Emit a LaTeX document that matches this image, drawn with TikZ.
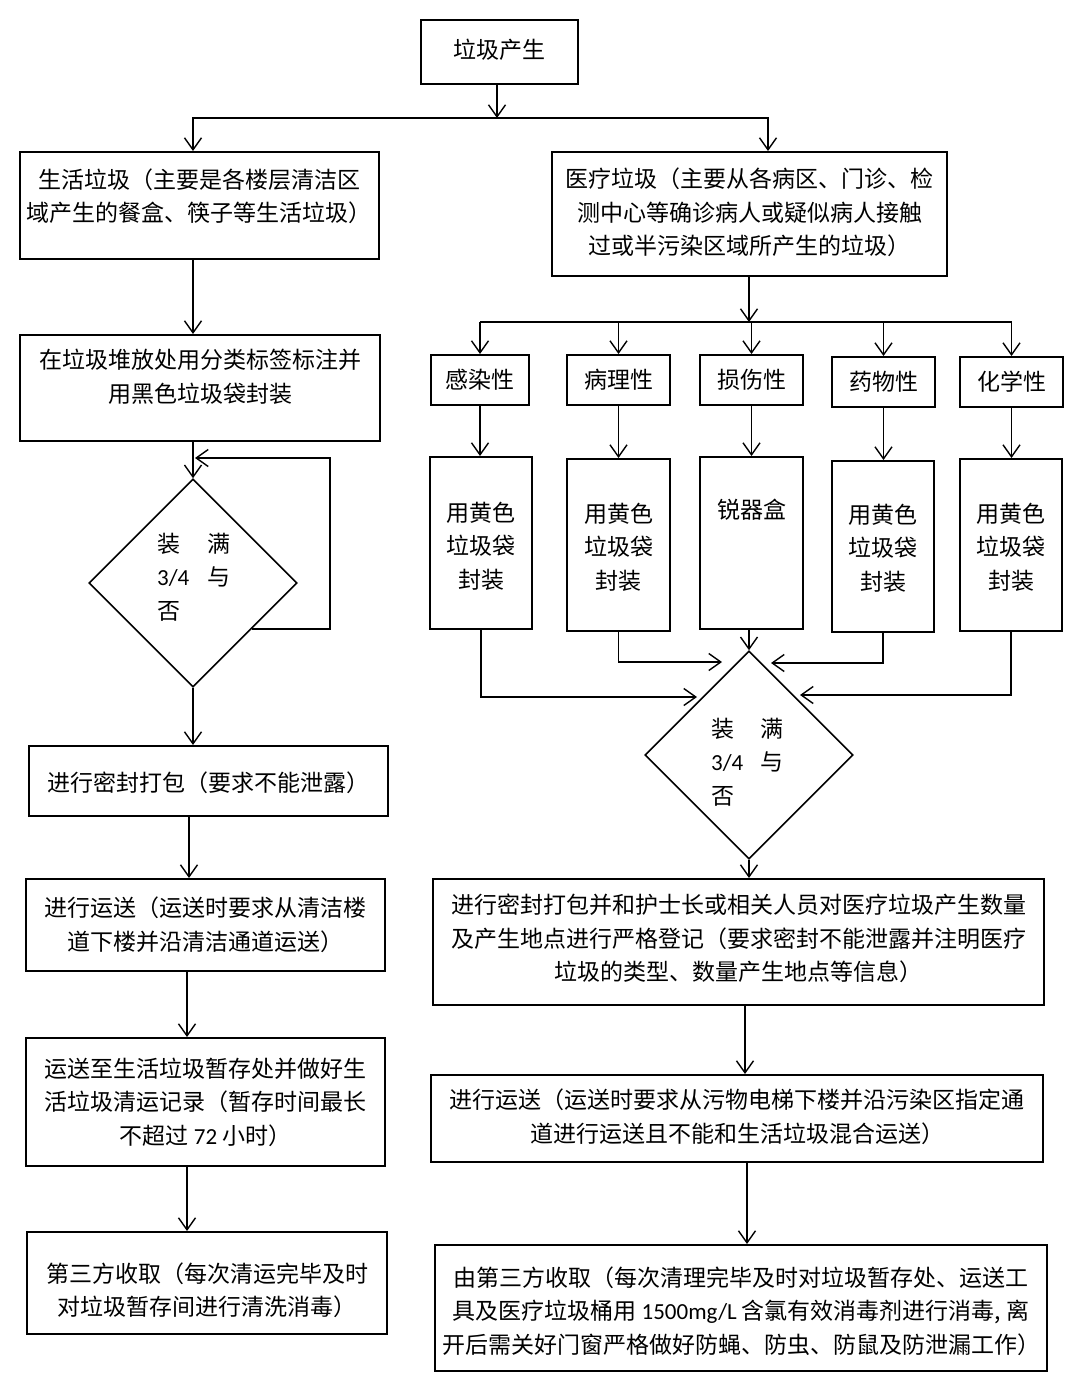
\documentclass[tikz,border=0pt]{standalone}
\usepackage{fontspec}
\setmainfont{Noto Sans CJK SC}
\newfontfamily\lat{Carlito}
\usetikzlibrary{arrows.meta,shapes.geometric,calc}
\newcommand{\mybox}[5]{\node[box, minimum width={#4-#2}, minimum height={#5-#3}] (#1) at ({(#2+#4)/2},{(#3+#5)/2}) {};}
\begin{document}
\begin{tikzpicture}[x=1pt,y=-1pt,
  box/.style={draw, line width=2pt, inner sep=0pt},
  txt/.style={align=center, font=\fontsize{23pt}{33.5pt}\selectfont, inner sep=0pt},
  arr/.style={line width=1.4pt, -{Straight Barb[length=12pt,width=17pt,line width=1.4pt]}},
  ln/.style={line width=1.4pt},
  dia/.style={draw, diamond, line width=1.6pt, inner sep=0pt, minimum width=208pt, minimum height=208pt}]
\fill[white] (0,0) rectangle (1080,1379);
\useasboundingbox (0,0) rectangle (1080,1379);

% ---- top
\mybox{t}{421}{20}{578}{84}
\node[txt] (tt) at (499.5,50) {垃圾产生};
\coordinate (split) at (497,118);
\coordinate (lx) at (193,0);
\coordinate (rx) at (768,0);

% ---- left column
\mybox{b1}{20}{152}{379}{259}
\node[txt] (b1t) at (199.5,196.5) {生活垃圾（主要是各楼层清洁区\\域产生的餐盒、筷子等生活垃圾）};
\mybox{b2}{20}{335}{380}{441}
\node[txt] (b2t) at (200,376.5) {在垃圾堆放处用分类标签标注并\\用黑色垃圾袋封装};
\node[dia] (d1) at (193,583) {};
\node[txt, align=left, anchor=west] (d1t) at (157,577) {\makebox[50pt][l]{装}满\\\makebox[50pt][l]{\lat 3/4}与\\否};
\mybox{b3}{29}{746}{388}{816}
\node[txt] (b3t) at (208.5,783) {进行密封打包（要求不能泄露）};
\mybox{b4}{26}{879}{385}{971}
\node[txt] (b4t) at (205.5,924.5) {进行运送（运送时要求从清洁楼\\道下楼并沿清洁通道运送）};
\mybox{b5}{26}{1038}{385}{1166}
\node[txt] (b5t) at (205.5,1102) {运送至生活垃圾暂存处并做好生\\活垃圾清运记录（暂存时间最长\\不超过 {\lat 72} 小时）};
\mybox{b6}{27}{1232}{387}{1334}
\node[txt] (b6t) at (207,1290) {第三方收取（每次清运完毕及时\\对垃圾暂存间进行清洗消毒）};

% ---- right column
\mybox{r1}{552}{152}{947}{276}
\node[txt] (r1t) at (749.5,212.5) {医疗垃圾（主要从各病区、门诊、检\\测中心等确诊病人或疑似病人接触\\过或半污染区域所产生的垃圾）};
\coordinate (bus) at (749,322);

\mybox{c1}{431}{355}{529}{405}
\mybox{c2}{567}{355}{670}{405}
\mybox{c3}{700}{355}{803}{405}
\mybox{c4}{832}{357}{935}{407}
\mybox{c5}{960}{357}{1063}{407}
\node[txt] at (c1) {感染性};
\node[txt] at (c2) {病理性};
\node[txt] at (c3) {损伤性};
\node[txt] at (c4) {药物性};
\node[txt] at (c5) {化学性};

\mybox{g1}{430}{457}{532}{629}
\mybox{g2}{567}{459}{670}{631}
\mybox{g3}{700}{457}{803}{629}
\mybox{g4}{832}{461}{934}{632}
\mybox{g5}{960}{459}{1062}{631}
\node[txt] (g1t) at (481,546) {用黄色\\垃圾袋\\封装};
\node[txt] (g2t) at (618.5,547) {用黄色\\垃圾袋\\封装};
\node[txt] (g3t) at (751.5,510) {锐器盒};
\node[txt] (g4t) at (883,548) {用黄色\\垃圾袋\\封装};
\node[txt] (g5t) at (1011,547) {用黄色\\垃圾袋\\封装};

\node[dia] (d2) at (749,755) {};
\node[txt, align=left, anchor=west] (d2t) at (711,762) {\makebox[49pt][l]{装}满\\\makebox[49pt][l]{\lat 3/4}与\\否};

\mybox{r3}{433}{879}{1044}{1005}
\node[txt] (r3t) at (738.5,938.5) {进行密封打包并和护士长或相关人员对医疗垃圾产生数量\\及产生地点进行严格登记（要求密封不能泄露并注明医疗\\垃圾的类型、数量产生地点等信息）};
\mybox{r4}{431}{1075}{1043}{1162}
\node[txt] (r4t) at (737,1116.5) {进行运送（运送时要求从污物电梯下楼并沿污染区指定通\\道进行运送且不能和生活垃圾混合运送）};
\mybox{r5}{435}{1245}{1047}{1371}
\node[txt] (r5t) at (741,1311) {由第三方收取（每次清理完毕及时对垃圾暂存处、运送工\\具及医疗垃圾桶用 {\lat 1500mg/L} 含氯有效消毒剂进行消毒, 离\\开后需关好门窗严格做好防蝇、防虫、防鼠及防泄漏工作）};

% ---- connectors
\coordinate (lx2) at (189,0);
\coordinate (lx3) at (187,0);
\coordinate (rx2) at (745,0);
\coordinate (rx3) at (747,0);
\draw[arr] (t.south -| split) -- (split);
\draw[arr] (split) -| (b1.north -| lx);
\draw[arr] (split) -| (r1.north -| rx);
\draw[arr] (b1.south -| lx) -- (b2.north -| lx);
\draw[arr] (b2.south -| lx) -- (d1.north);
\coordinate (lp) at ($(d1.east)!0.44!(d1.south)$);
\coordinate (lc) at (330,458);
\coordinate (lend) at (195,458);
\draw[arr] (lp) -| (lc) -- (lend);
\draw[arr] (d1.south) -- (d1.south |- b3.north);
\draw[arr] (b3.south -| lx2) -- (b4.north -| lx2);
\draw[arr] (b4.south -| lx3) -- (b5.north -| lx3);
\draw[arr] (b5.south -| lx3) -- (b6.north -| lx3);

\draw[arr] (r1.south -| bus) -- (bus);
\draw[ln] (c1.north |- bus) -- (c5.north |- bus);
\foreach \i in {1,...,5}{
  \draw[arr] (c\i.north |- bus) -- (c\i.north);
  \draw[arr] (c\i.south) -- (c\i.south |- g\i.north);
}
\coordinate (e1) at (697,697);
\coordinate (e2) at (722,662);
\coordinate (e4) at (771,663);
\coordinate (e5) at (800,695);
\draw[arr] (g1.south) |- (e1);
\draw[arr] (g2.south) |- (e2);
\draw[arr] (g3.south -| d2.north) -- (d2.north);
\draw[arr] (g4.south) |- (e4);
\draw[arr] (g5.south) |- (e5);
\draw[arr] (d2.south) -- (d2.south |- r3.north);
\draw[arr] (r3.south -| rx2) -- (r4.north -| rx2);
\draw[arr] (r4.south -| rx3) -- (r5.north -| rx3);
\end{tikzpicture}
\end{document}
